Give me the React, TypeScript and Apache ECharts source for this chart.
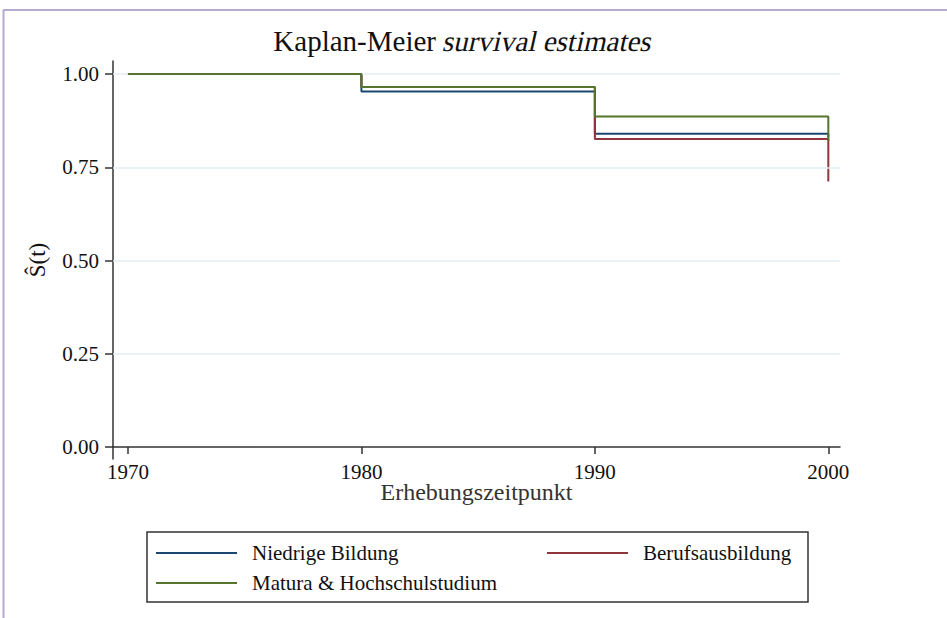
import React, { useEffect, useRef } from "react";
import * as echarts from "echarts";

// Survey years (time axis) and Kaplan-Meier survival estimates per education group
const years = [1970, 1980, 1990, 2000];
const niedrigeBildung = [1.0, 0.953, 0.84, 0.83];
const berufsausbildung = [1.0, 0.965, 0.826, 0.712];
const maturaHochschule = [1.0, 0.965, 0.886, 0.821];

const seriesNames = ["Niedrige Bildung", "Berufsausbildung", "Matura & Hochschulstudium"];
const seriesColors = ["#1a476f", "#90353b", "#55752f"];

const yTicks = [0, 0.25, 0.5, 0.75, 1];
const yTickLabels = ["0.00", "0.25", "0.50", "0.75", "1.00"];
const xTicks = [1970, 1980, 1990, 2000];

const titleMain = "Kaplan-Meier";
const titleSlanted = "survival estimates";

const FONT = "Liberation Serif";

const toPairs = (vals: number[]) => years.map((y, i) => [y, vals[i]]);

export default function App() {
  const ref = useRef<HTMLDivElement | null>(null);

  useEffect(() => {
    document.body.style.margin = "0";
    if (!ref.current) return;
    const chart = echarts.init(ref.current, null, { renderer: "svg" });

    const mkSeries = (name: string, vals: number[], color: string, z: number) => ({
      name,
      type: "line",
      step: "end",
      data: toPairs(vals),
      symbol: "none",
      z,
      lineStyle: { color, width: 2 },
      itemStyle: { color },
    });

    chart.setOption({
      animation: false,
      backgroundColor: "#ffffff",
      grid: { left: 113, right: 107, top: 61, bottom: 159 },
      xAxis: {
        type: "value",
        min: 1969.36,
        max: 2000.5,
        name: "Erhebungszeitpunkt",
        nameLocation: "middle",
        nameGap: 21,
        nameMoveOverlap: false,
        nameTextStyle: { fontFamily: FONT, fontSize: 24, color: "#333" },
        axisLine: { show: true, lineStyle: { color: "#333", width: 1.5 } },
        axisTick: { show: true, length: 7, lineStyle: { color: "#333", width: 1.5 }, customValues: xTicks },
        axisLabel: {
          customValues: xTicks,
          fontFamily: FONT,
          fontSize: 21,
          color: "#111",
          margin: 2,
          formatter: (v: number) => String(Math.round(v)),
        },
        splitLine: { show: false },
      },
      yAxis: {
        type: "value",
        min: -0.032,
        max: 1.035,
        name: "Ŝ(t)",
        nameLocation: "middle",
        nameGap: 64,
        nameTextStyle: { fontFamily: FONT, fontSize: 23, color: "#111" },
        axisLine: { show: true, lineStyle: { color: "#333", width: 1.5 } },
        axisTick: { show: true, length: 8, lineStyle: { color: "#333", width: 1.5 }, customValues: yTicks },
        axisLabel: {
          customValues: yTicks,
          fontFamily: FONT,
          fontSize: 21,
          color: "#111",
          margin: 14,
          formatter: (v: number) => yTickLabels[yTicks.indexOf(v)] ?? v.toFixed(2),
        },
        splitLine: { show: false },
      },
      legend: [
        {
          data: [seriesNames[0], seriesNames[2]],
          orient: "vertical",
          left: 156,
          top: 542,
          padding: 0,
          itemGap: 8,
          itemWidth: 81,
          itemHeight: 2,
          icon: "rect",
          textStyle: { fontFamily: FONT, fontSize: 21, color: "#111", lineHeight: 22, padding: [0, 0, 0, 10] },
        },
        {
          data: [seriesNames[1]],
          orient: "vertical",
          left: 547,
          top: 542,
          padding: 0,
          itemWidth: 81,
          itemHeight: 2,
          icon: "rect",
          textStyle: { fontFamily: FONT, fontSize: 21, color: "#111", lineHeight: 22, padding: [0, 0, 0, 10] },
        },
      ],
      graphic: [
        // outer frame lines
        { type: "line", shape: { x1: 3, y1: 10, x2: 947, y2: 10 }, style: { stroke: "#b8a9d1", lineWidth: 2 } },
        { type: "line", shape: { x1: 3.5, y1: 10, x2: 3.5, y2: 618 }, style: { stroke: "#b8a9d1", lineWidth: 2 } },
        // legend box
        {
          type: "rect",
          shape: { x: 147, y: 532, width: 661, height: 70 },
          style: { fill: "none", stroke: "#333", lineWidth: 1.5 },
          z: 0,
        },
        // title: upright part, then the slanted part
        {
          type: "text",
          x: 436,
          y: 41,
          style: { text: titleMain, font: "29px Liberation Serif", fill: "#111", align: "right", verticalAlign: "middle" },
        },
        {
          type: "text",
          x: 444,
          y: 41,
          skewX: -0.22,
          style: { text: titleSlanted, font: "29px Liberation Serif", fill: "#111", align: "left", verticalAlign: "middle" },
        },
      ],
      series: [
        {
          name: "grid",
          type: "line",
          data: [],
          silent: true,
          markLine: {
            silent: true,
            symbol: "none",
            label: { show: false },
            lineStyle: { color: "#e3edf1", width: 1.5, type: "solid" },
            data: yTicks.filter((v) => v > 0).map((v) => ({ yAxis: v })),
          },
          z: 1,
        },
        mkSeries(seriesNames[0], niedrigeBildung, seriesColors[0], 3),
        mkSeries(seriesNames[1], berufsausbildung, seriesColors[1], 4),
        mkSeries(seriesNames[2], maturaHochschule, seriesColors[2], 5),
      ],
    });

    return () => chart.dispose();
  }, []);

  return <div ref={ref} style={{ width: 947, height: 618 }} />;
}
